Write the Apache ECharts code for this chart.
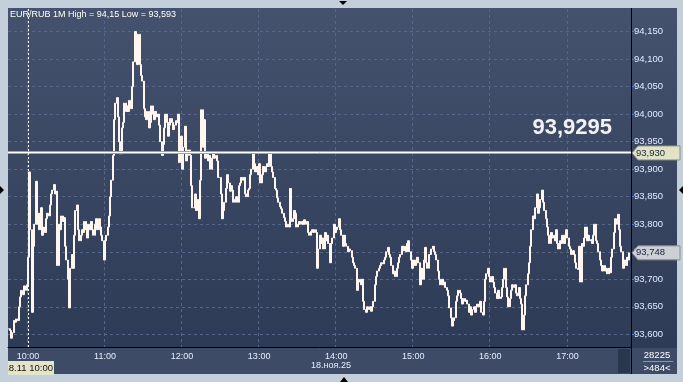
<!DOCTYPE html>
<html><head><meta charset="utf-8">
<script src="https://cdn.jsdelivr.net/npm/echarts@6/dist/echarts.min.js"></script>
<style>html,body{margin:0;padding:0;background:#c4cfdc;}#c{width:683px;height:382px;}</style>
</head><body><div id="c"></div><script>
// ---- data: 1-minute closes, EUR/RUB, 18.11.25 ----
const h09 = [93.610,93.607,93.593,93.603,93.625,93.622,93.628,93.625,93.650,93.668,93.680,93.672,93.688,93.680,93.690];
const h10 = [93.740,93.895,93.790,93.640,93.760,93.800,93.878,93.800,93.820,93.790,
             93.830,93.780,93.795,93.785,93.810,93.820,93.815,93.835,93.855,93.862,
             93.872,93.855,93.860,93.725,93.800,93.790,93.815,93.805,93.812,93.760,
             93.735,93.700,93.648,93.720,93.745,93.720,93.780,93.825,93.835,93.790,
             93.770,93.780,93.790,93.785,93.805,93.790,93.775,93.800,93.790,93.805,
             93.790,93.780,93.800,93.810,93.790,93.810,93.795,93.780,93.770,93.735];
const h11 = [93.770,93.780,93.795,93.815,93.850,93.880,93.925,93.990,94.020,94.030,
             93.995,93.950,93.928,93.975,93.985,94.020,94.005,94.015,94.005,94.025,
             94.010,94.050,94.095,94.150,94.100,94.090,94.145,94.090,94.070,94.060,
             94.010,93.995,93.990,94.005,93.975,93.985,94.015,94.000,93.990,94.005,
             93.995,94.000,93.980,93.950,93.925,93.945,93.975,94.000,93.985,93.960,
             93.980,93.992,93.985,93.972,93.980,93.988,93.985,94.000,93.912,93.960];
const h12 = [93.900,93.940,93.978,93.915,93.925,93.935,93.925,93.870,93.830,93.830,
             93.855,93.825,93.845,93.810,93.880,94.008,93.940,93.990,93.920,93.930,
             93.915,93.925,93.900,93.920,93.930,93.920,93.925,93.915,93.885,93.885,
             93.855,93.810,93.825,93.840,93.865,93.890,93.875,93.860,93.870,93.862,
             93.840,93.845,93.850,93.840,93.870,93.875,93.885,93.880,93.885,93.855,
             93.850,93.862,93.865,93.890,93.900,93.928,93.910,93.895,93.905,93.890];
const h13 = [93.910,93.875,93.890,93.905,93.895,93.905,93.910,93.905,93.930,93.905,
             93.895,93.885,93.865,93.862,93.848,93.840,93.832,93.828,93.820,93.812,
             93.805,93.795,93.800,93.795,93.865,93.805,93.810,93.825,93.820,93.795,
             93.800,93.805,93.800,93.805,93.800,93.808,93.800,93.805,93.785,93.780,
             93.787,93.790,93.785,93.790,93.785,93.720,93.755,93.780,93.765,93.775,
             93.755,93.785,93.770,93.780,93.765,93.730,93.765,93.775,93.800,93.785];
const h14 = [93.790,93.795,93.810,93.790,93.780,93.760,93.780,93.765,93.760,93.750,
             93.755,93.752,93.740,93.730,93.725,93.720,93.680,93.695,93.700,93.690,
             93.700,93.660,93.645,93.640,93.650,93.645,93.650,93.642,93.650,93.660,
             93.690,93.705,93.715,93.720,93.725,93.730,93.728,93.735,93.740,93.750,
             93.758,93.745,93.740,93.725,93.710,93.715,93.705,93.720,93.730,93.740,
             93.745,93.760,93.752,93.760,93.750,93.765,93.770,93.750,93.735,93.720];
const h15 = [93.735,93.725,93.730,93.740,93.730,93.690,93.720,93.700,93.735,93.758,
             93.730,93.720,93.745,93.745,93.755,93.760,93.750,93.745,93.735,93.715,
             93.700,93.690,93.700,93.690,93.695,93.685,93.680,93.670,93.648,93.630,
             93.615,93.625,93.630,93.660,93.670,93.680,93.675,93.665,93.655,93.665,
             93.660,93.662,93.655,93.640,93.650,93.635,93.645,93.650,93.640,93.650,
             93.655,93.650,93.660,93.640,93.635,93.660,93.700,93.710,93.720,93.705];
const h16 = [93.695,93.705,93.695,93.685,93.675,93.665,93.680,93.665,93.668,93.685,
             93.700,93.720,93.685,93.668,93.650,93.665,93.680,93.690,93.685,93.690,
             93.675,93.670,93.685,93.665,93.655,93.608,93.635,93.670,93.690,93.710,
             93.730,93.760,93.790,93.815,93.810,93.830,93.855,93.820,93.830,93.845,
             93.862,93.840,93.825,93.810,93.795,93.780,93.765,93.785,93.775,93.780,
             93.770,93.790,93.765,93.755,93.770,93.765,93.780,93.765,93.780,93.790];
const h17 = [93.775,93.760,93.755,93.745,93.752,93.745,93.730,93.720,93.718,93.760,
             93.695,93.765,93.760,93.775,93.795,93.770,93.780,93.770,93.772,93.765,
             93.780,93.800,93.770,93.765,93.750,93.735,93.725,93.715,93.725,93.715,
             93.720,93.710,93.720,93.712,93.740,93.755,93.785,93.810,93.800,93.818,
             93.790,93.760,93.750,93.720,93.735,93.725,93.740,93.735,93.748];

const priceTicks = [93.60,93.65,93.70,93.75,93.80,93.85,93.90,93.95,94.00,94.05,94.10,94.15];
const levelValue = 93.9295;
const levelTag = '93,930';
const titleText = 'EUR/RUB 1M High = 94,15 Low = 93,593';
const dateLabel = '18.ноя.25';
const cursorLabel = '18.11 10:00';
const cursorTime = '10:00';
const barCount = '28225';
const visibleBars = '>484<';
const sessionStart = [9, 45], sessionEnd = [17, 49];

// ---- build ----
const closes = [].concat(h09, h10, h11, h12, h13, h14, h15, h16, h17);
const times = [];
for (let h = sessionStart[0]; h <= sessionEnd[0]; h++) {
  for (let m = 0; m < 60; m++) {
    if (h === sessionStart[0] && m < sessionStart[1]) continue;
    if (h === sessionEnd[0] && m > sessionEnd[1]) continue;
    times.push((h < 10 ? '0' : '') + h + ':' + (m < 10 ? '0' : '') + m);
  }
}
const candles = closes.map((c, i) => {
  const o = i ? closes[i - 1] : c;
  return [o, c, Math.min(o, c), Math.max(o, c)];
});
const fmt3 = v => v.toFixed(3).replace('.', ',');
const FONT = 'Liberation Sans, Arial, sans-serif';
const onHour = (i, v) => v.slice(3) === '00';
const BAR = '#fff6f0';

const chart = echarts.init(document.getElementById('c'), null, {renderer: 'canvas'});
chart.setOption({
  animation: false,
  backgroundColor: 'transparent',
  title: {text: titleText, left: 10, top: 10, padding: 0,
    textStyle: {fontSize: 9, fontWeight: 'normal', color: '#ffffff', fontFamily: FONT}},
  grid: {left: 8, right: 52, top: 9, bottom: 35, containLabel: false},
  xAxis: {
    type: 'category', data: times, boundaryGap: true,
    axisLine: {show: true, lineStyle: {color: '#000000', width: 1}},
    axisTick: {show: false},
    axisLabel: {interval: onHour, color: '#e6edff', fontSize: 9, fontFamily: FONT, margin: 5},
    splitLine: {show: true, interval: onHour, lineStyle: {color: '#56678a', type: [3, 3], width: 1}}
  },
  yAxis: {
    type: 'value', position: 'right', min: 93.577, max: 94.191, scale: true,
    axisLine: {show: false},
    axisTick: {show: true, customValues: priceTicks, length: 3, inside: false,
      lineStyle: {color: '#3b86ff', width: 1}},
    axisLabel: {customValues: priceTicks, formatter: v => fmt3(v), color: '#e2eaff',
      fontSize: 9.5, fontFamily: FONT, margin: 3},
    splitLine: {show: true, lineStyle: {color: '#56678a', type: [3, 3], width: 1}}
  },
  series: [{
    type: 'candlestick', data: candles, barWidth: 1.5,
    itemStyle: {color: BAR, color0: BAR, borderColor: BAR, borderColor0: BAR, borderWidth: 1},
    markLine: {
      silent: true, symbol: 'none', animation: false, label: {show: false},
      data: [
        {yAxis: levelValue, lineStyle: {color: '#9ea3aa', width: 3, type: 'solid'}},
        {yAxis: levelValue, lineStyle: {color: '#ffffff', width: 1, type: 'solid'}},
        {xAxis: cursorTime, lineStyle: {color: '#ffffff', width: 1, type: [2, 2]}}
      ]
    }
  }]
});

const yLevel = chart.convertToPixel({yAxisIndex: 0}, levelValue);
const lastClose = closes[closes.length - 1];
const yLast = chart.convertToPixel({yAxisIndex: 0}, lastClose);
function tag(y, text, fill) {
  return [
    {type: 'polygon', z: 50, shape: {points: [[632, y], [638, y - 7], [680, y - 7], [680, y + 7], [638, y + 7]]},
      style: {fill: fill, stroke: '#8c8f84', lineWidth: 1}},
    {type: 'text', z: 51, x: 636, y: y, style: {text: text, fill: '#15233a', font: '9.5px ' + FONT,
      textAlign: 'left', textVerticalAlign: 'middle'}}
  ];
}
function tri(points) {
  return {type: 'polygon', z: 60, shape: {points: points}, style: {fill: '#000000'}};
}
chart.setOption({
  graphic: [
    {type: 'rect', z: -20, shape: {x: 8, y: 8, width: 669, height: 366},
      style: {fill: new echarts.graphic.LinearGradient(0, 0, 0, 1, [
        {offset: 0, color: '#44526e'}, {offset: 1, color: '#2c3955'}])}},
    {type: 'rect', z: -19, shape: {x: 8, y: 348, width: 669, height: 26}, style: {fill: '#3e4b66'}},
    {type: 'rect', z: -18, shape: {x: 618, y: 349, width: 12, height: 24}, style: {fill: '#2a364e'}},
    {type: 'line', z: 40, shape: {x1: 631.5, y1: 8, x2: 631.5, y2: 374}, style: {stroke: '#000000', lineWidth: 1}},
    {type: 'line', z: 40, shape: {x1: 643, y1: 361.5, x2: 673, y2: 361.5}, style: {stroke: '#8795ad', lineWidth: 1}},
    {type: 'text', z: 40, x: 657, y: 355, style: {text: barCount, fill: '#ffffff', font: '9.5px ' + FONT, textAlign: 'center', textVerticalAlign: 'middle'}},
    {type: 'text', z: 40, x: 657, y: 368, style: {text: visibleBars, fill: '#ffffff', font: '9.5px ' + FONT, textAlign: 'center', textVerticalAlign: 'middle'}},
    {type: 'text', z: 40, x: 331, y: 366, style: {text: dateLabel, fill: '#e6edff', font: '9px ' + FONT, textAlign: 'center', textVerticalAlign: 'middle'}},
    {type: 'rect', z: 41, shape: {x: 8, y: 361, width: 46, height: 14}, style: {fill: '#e4e4c8'}},
    {type: 'text', z: 42, x: 53, y: 368.5, style: {text: cursorLabel, fill: '#111111', font: '9.5px ' + FONT, textAlign: 'right', textVerticalAlign: 'middle'}},
    {type: 'rect', z: 43, shape: {x: 0, y: 355, width: 8, height: 27}, style: {fill: '#c4cfdc'}},
    {type: 'rect', z: 43, shape: {x: 0, y: 375, width: 60, height: 7}, style: {fill: '#c4cfdc'}},
    {type: 'text', z: 45, x: 612, y: yLevel - 25, style: {text: String(levelValue).replace('.', ','), fill: '#f2f2f2',
      font: 'bold 22px ' + FONT, textAlign: 'right', textVerticalAlign: 'middle'}},
    ...tag(yLevel, levelTag, '#e2e2c6'),
    ...tag(yLast, fmt3(lastClose), '#ccd0d6'),
    tri([[339, 1], [347, 1], [343, 5]]),
    tri([[340, 382], [348, 382], [344, 377]]),
    tri([[0, 186], [0, 194], [4, 190]]),
    tri([[683, 186], [683, 194], [679, 190]])
  ]
});
</script></body></html>
